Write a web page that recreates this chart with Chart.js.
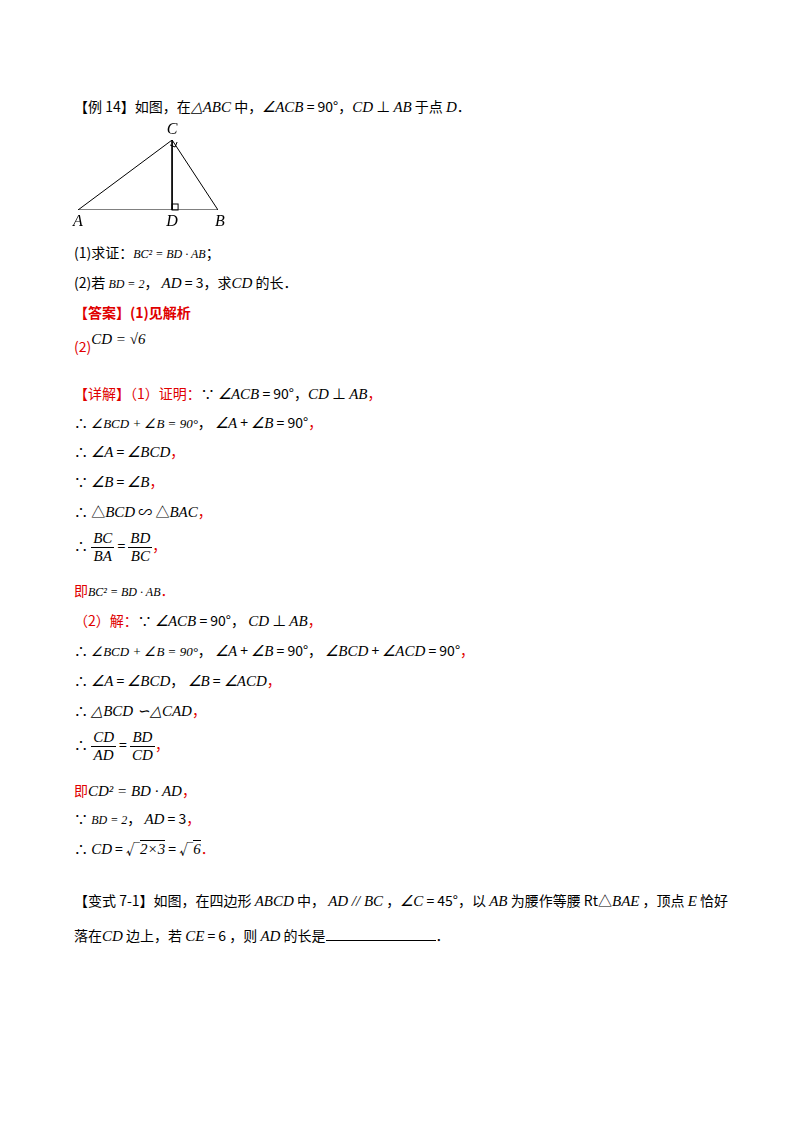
<!DOCTYPE html>
<html><head><meta charset="utf-8">
<script src="https://cdn.jsdelivr.net/npm/chart.js@4"></script>
<style>
body{margin:0;width:800px;height:1132px;background:#fff;font-family:"Noto Sans CJK SC",sans-serif;font-size:14px;color:#000;position:relative}
.l{position:absolute;left:74px;white-space:nowrap}
i,.m{font-family:"Liberation Serif",serif;font-style:italic;font-size:15px}
.r{color:#e00000}
.fr{display:inline-block;vertical-align:middle;text-align:center;font-family:"Liberation Serif",serif;font-style:italic;font-size:15px}
.fr span{display:block;padding:0 2px}
.fr span:first-child{border-bottom:1px solid #000}
#fig{position:absolute;left:66px;top:122px;width:170px;height:106px}
u{display:inline-block;width:110px;border-bottom:1px solid #000}
</style></head><body>
<div class="l" style="top:96px">【例 14】如图，在<span class="m">△ABC</span> 中，<span class="m">∠ACB</span> = 90°，<span class="m">CD</span> ⊥ <span class="m">AB</span> 于点 <span class="m">D</span>．</div>
<div id="fig"><canvas id="c"></canvas></div>
<div class="l" style="top:242px">(1)求证：<span class="m" style="font-size:12px">BC² = BD · AB</span>；</div>
<div class="l" style="top:272px">(2)若 <span class="m" style="font-size:12px">BD = 2</span>， <span class="m">AD</span> = 3，求<span class="m">CD</span> 的长．</div>
<div class="l r" style="top:302px;font-weight:bold">【答案】(1)见解析</div>
<div class="l r" style="top:336px">(2)<span class="m" style="color:#000;position:relative;top:-8px">CD = √6</span></div>
<div class="l" style="top:383px"><span class="r">【详解】（1）证明：</span>∵ <span class="m">∠ACB</span> = 90°，<span class="m">CD</span> ⊥ <span class="m">AB</span><span class="r">，</span></div>
<div class="l" style="top:412px">∴ <span class="m" style="font-size:13px">∠BCD + ∠B = 90°</span>， <span class="m">∠A</span> + <span class="m">∠B</span> = 90°<span class="r">，</span></div>
<div class="l" style="top:441px">∴ <span class="m">∠A</span> = <span class="m">∠BCD</span><span class="r">，</span></div>
<div class="l" style="top:471px">∵ <span class="m">∠B</span> = <span class="m">∠B</span><span class="r">，</span></div>
<div class="l" style="top:501px">∴ △<span class="m">BCD</span> ∽ △<span class="m">BAC</span><span class="r">，</span></div>
<div class="l" style="top:530px">∴ <span class="fr"><span>BC</span><span>BA</span></span> = <span class="fr"><span>BD</span><span>BC</span></span><span class="r">，</span></div>
<div class="l" style="top:580px"><span class="r">即</span><span class="m" style="font-size:12px">BC² = BD · AB</span><span class="r">．</span></div>
<div class="l r" style="top:610px">（2）解：<span style="color:#000">∵ <span class="m">∠ACB</span> = 90°， <span class="m">CD</span> ⊥ <span class="m">AB</span></span>，</div>
<div class="l" style="top:640px">∴ <span class="m" style="font-size:13px">∠BCD + ∠B = 90°</span>， <span class="m">∠A</span> + <span class="m">∠B</span> = 90°， <span class="m">∠BCD</span> + <span class="m">∠ACD</span> = 90°<span class="r">，</span></div>
<div class="l" style="top:670px">∴ <span class="m">∠A</span> = <span class="m">∠BCD</span>， <span class="m">∠B</span> = <span class="m">∠ACD</span><span class="r">，</span></div>
<div class="l" style="top:700px">∴ <span class="m">△BCD ∽△CAD</span><span class="r">，</span></div>
<div class="l" style="top:729px">∴ <span class="fr"><span>CD</span><span>AD</span></span> = <span class="fr"><span>BD</span><span>CD</span></span><span class="r">，</span></div>
<div class="l" style="top:780px"><span class="r">即</span><span class="m">CD² = BD · AD</span><span class="r">，</span></div>
<div class="l" style="top:808px">∵ <span class="m" style="font-size:12px">BD = 2</span>， <span class="m">AD</span> = 3<span class="r">，</span></div>
<div class="l" style="top:838px">∴ <span class="m">CD</span> = √<span style="border-top:1px solid #000" class="m">2×3</span> = √<span style="border-top:1px solid #000" class="m">6</span><span class="r">．</span></div>
<div class="l" style="top:890px">【变式 7-1】如图，在四边形 <span class="m">ABCD</span> 中， <span class="m">AD // BC</span> ，<span class="m">∠C</span> = 45°，以 <span class="m">AB</span> 为腰作等腰 Rt△<span class="m">BAE</span> ，顶点 <span class="m">E</span> 恰好</div>
<div class="l" style="top:925px">落在<span class="m">CD</span> 边上，若 <span class="m">CE</span> = 6 ，则 <span class="m">AD</span> 的长是<u></u>．</div>
<script>
// 三角形顶点 (A, B, C, D)
const ptNames = ['A', 'B', 'C', 'D'];
const ptX = [0, 5, 3.36, 3.36];
const ptY = [0, 0, 2.25, 0];
const pt = n => ({x: ptX[ptNames.indexOf(n)], y: ptY[ptNames.indexOf(n)]});
const segs = [['A','B'], ['B','C'], ['C','A'], ['C','D']];

const labels = {
  id: 'labels',
  afterDatasetsDraw(ch) {
    const g = ch.ctx, sx = ch.scales.x, sy = ch.scales.y;
    const P = n => [sx.getPixelForValue(pt(n).x), sy.getPixelForValue(pt(n).y)];
    g.save();
    g.strokeStyle = '#000'; g.lineWidth = 1;
    // 直角标记
    const [dx, dy] = P('D');
    g.strokeRect(dx, dy - 6, 6, 6);
    const [cx, cy] = P('C');
    g.beginPath(); g.moveTo(cx - 2, cy + 5); g.lineTo(cx + 3, cy + 7); g.lineTo(cx + 5, cy + 2); g.stroke();
    g.font = 'italic 16px "Liberation Serif"';
    g.fillStyle = '#000'; g.textAlign = 'center';
    const off = {A: [0, 16], B: [2, 16], C: [0, -6], D: [0, 16]};
    ptNames.forEach(n => { const [x, y] = P(n); g.fillText(n, x + off[n][0], y + off[n][1]); });
    g.restore();
  }
};

new Chart(document.getElementById('c'), {
  type: 'scatter',
  data: {datasets: segs.map(s => ({data: s.map(pt), showLine: true, borderColor: '#000', borderWidth: 1, pointRadius: 0}))},
  options: {
    responsive: true, maintainAspectRatio: false, animation: false,
    layout: {padding: {left: 12, right: 18, top: 18, bottom: 18}},
    plugins: {legend: {display: false}, tooltip: {enabled: false}},
    scales: {x: {display: false, min: 0, max: 5}, y: {display: false, min: 0, max: 2.25}}
  },
  plugins: [labels]
});
</script>
</body></html>
